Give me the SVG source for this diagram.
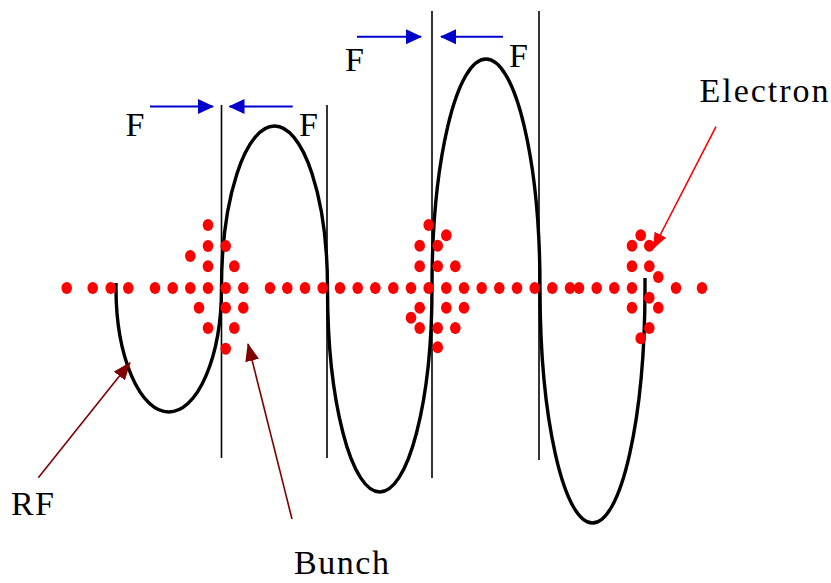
<svg xmlns="http://www.w3.org/2000/svg" width="831" height="583" viewBox="0 0 831 583">
<style>
.lbl{font-family:"Liberation Serif","Times New Roman",serif;font-size:34px;fill:#000}
.wave{fill:none;stroke:#000;stroke-width:3.4}
.gap{stroke:#000;stroke-width:1.6}
.force{stroke:#0000CC;stroke-width:2}
.dark{stroke:#800000;stroke-width:1.6}
.red{stroke:#FF0000;stroke-width:1.6}
.e{fill:#FF0000}
</style>
<defs>
<marker id="ab" markerUnits="userSpaceOnUse" markerWidth="16" markerHeight="16" viewBox="0 0 16 16" refX="15" refY="8" orient="auto"><path d="M0,0.5 L16,8 L0,15.5 z" fill="#0000CC"/></marker>
<marker id="ad" markerUnits="userSpaceOnUse" markerWidth="18" markerHeight="14" viewBox="0 0 18 14" refX="17" refY="7" orient="auto"><path d="M0,0 L18,7 L0,14 z" fill="#800000"/></marker>
<marker id="ar" markerUnits="userSpaceOnUse" markerWidth="16" markerHeight="14" viewBox="0 0 16 14" refX="15" refY="7" orient="auto"><path d="M0,0.5 L16,7 L0,13.5 z" fill="#FF0000"/></marker>
</defs>
<g id="gaps">
<line class="gap" x1="221.5" y1="105" x2="221.5" y2="458"/>
<line class="gap" x1="327" y1="105" x2="327" y2="458"/>
<line class="gap" x1="432" y1="11" x2="432" y2="478"/>
<line class="gap" x1="539" y1="11" x2="539" y2="460"/>
</g>
<g id="rf-wave">
<path class="wave" d="M116,283 L116,288 A52.75,124 0 0 0 221.5,288 A53,162 0 0 1 327.5,288 A52.25,204 0 0 0 432,288 A54,229 0 0 1 540,288 A52.5,235 0 0 0 645,288 L645,278"/>
</g>
<g id="electrons">
<g id="beam">
<ellipse class="e" cx="66.7" cy="288" rx="5.3" ry="6"/>
<ellipse class="e" cx="92.7" cy="288" rx="5.3" ry="6"/>
<ellipse class="e" cx="110.7" cy="288" rx="5.3" ry="6"/>
<ellipse class="e" cx="128.3" cy="288" rx="5.3" ry="6"/>
<ellipse class="e" cx="155" cy="288" rx="5.3" ry="6"/>
<ellipse class="e" cx="172.7" cy="288" rx="5.3" ry="6"/>
<ellipse class="e" cx="190.3" cy="288" rx="5.3" ry="6"/>
<ellipse class="e" cx="208" cy="288" rx="5.3" ry="6"/>
<ellipse class="e" cx="225.7" cy="288" rx="5.3" ry="6"/>
<ellipse class="e" cx="243.3" cy="288" rx="5.3" ry="6"/>
<ellipse class="e" cx="270" cy="288" rx="5.3" ry="6"/>
<ellipse class="e" cx="287.3" cy="288" rx="5.3" ry="6"/>
<ellipse class="e" cx="305" cy="288" rx="5.3" ry="6"/>
<ellipse class="e" cx="322.7" cy="288" rx="5.3" ry="6"/>
<ellipse class="e" cx="340" cy="288" rx="5.3" ry="6"/>
<ellipse class="e" cx="357.7" cy="288" rx="5.3" ry="6"/>
<ellipse class="e" cx="375.3" cy="288" rx="5.3" ry="6"/>
<ellipse class="e" cx="393.3" cy="288" rx="5.3" ry="6"/>
<ellipse class="e" cx="411" cy="288" rx="5.3" ry="6"/>
<ellipse class="e" cx="428.7" cy="288" rx="5.3" ry="6"/>
<ellipse class="e" cx="446.3" cy="288" rx="5.3" ry="6"/>
<ellipse class="e" cx="464" cy="288" rx="5.3" ry="6"/>
<ellipse class="e" cx="481.7" cy="288" rx="5.3" ry="6"/>
<ellipse class="e" cx="499.3" cy="288" rx="5.3" ry="6"/>
<ellipse class="e" cx="517" cy="288" rx="5.3" ry="6"/>
<ellipse class="e" cx="534.7" cy="288" rx="5.3" ry="6"/>
<ellipse class="e" cx="552.3" cy="288" rx="5.3" ry="6"/>
<ellipse class="e" cx="570" cy="288" rx="5.3" ry="6"/>
<ellipse class="e" cx="579" cy="288" rx="5.3" ry="6"/>
<ellipse class="e" cx="596.7" cy="288" rx="5.3" ry="6"/>
<ellipse class="e" cx="614.3" cy="288" rx="5.3" ry="6"/>
<ellipse class="e" cx="632" cy="288" rx="5.3" ry="6"/>
<ellipse class="e" cx="676" cy="288" rx="5.3" ry="6"/>
<ellipse class="e" cx="702" cy="288" rx="5.3" ry="6"/>
</g>
<g id="bunch1">
<ellipse class="e" cx="208" cy="225" rx="5.3" ry="6"/>
<ellipse class="e" cx="208" cy="246" rx="5.3" ry="6"/>
<ellipse class="e" cx="225.7" cy="246" rx="5.3" ry="6"/>
<ellipse class="e" cx="190.3" cy="256" rx="5.3" ry="6"/>
<ellipse class="e" cx="208" cy="266.3" rx="5.3" ry="6"/>
<ellipse class="e" cx="234.3" cy="266.3" rx="5.3" ry="6"/>
<ellipse class="e" cx="199" cy="307.7" rx="5.3" ry="6"/>
<ellipse class="e" cx="225.7" cy="307.7" rx="5.3" ry="6"/>
<ellipse class="e" cx="243.3" cy="307.7" rx="5.3" ry="6"/>
<ellipse class="e" cx="208" cy="328" rx="5.3" ry="6"/>
<ellipse class="e" cx="234.3" cy="328" rx="5.3" ry="6"/>
<ellipse class="e" cx="225.7" cy="348.7" rx="5.3" ry="6"/>
</g>
<g id="bunch2">
<ellipse class="e" cx="428.7" cy="225" rx="5.3" ry="6"/>
<ellipse class="e" cx="446.3" cy="235.3" rx="5.3" ry="6"/>
<ellipse class="e" cx="419.7" cy="245.7" rx="5.3" ry="6"/>
<ellipse class="e" cx="437.7" cy="245.7" rx="5.3" ry="6"/>
<ellipse class="e" cx="419.7" cy="266.3" rx="5.3" ry="6"/>
<ellipse class="e" cx="437.7" cy="266.3" rx="5.3" ry="6"/>
<ellipse class="e" cx="455.3" cy="266.3" rx="5.3" ry="6"/>
<ellipse class="e" cx="419.7" cy="307.7" rx="5.3" ry="6"/>
<ellipse class="e" cx="446.3" cy="307.7" rx="5.3" ry="6"/>
<ellipse class="e" cx="464" cy="307.7" rx="5.3" ry="6"/>
<ellipse class="e" cx="411" cy="317.7" rx="5.3" ry="6"/>
<ellipse class="e" cx="419.7" cy="328" rx="5.3" ry="6"/>
<ellipse class="e" cx="437.7" cy="328" rx="5.3" ry="6"/>
<ellipse class="e" cx="455.3" cy="328" rx="5.3" ry="6"/>
<ellipse class="e" cx="437.7" cy="347.3" rx="5.3" ry="6"/>
</g>
<g id="bunch3">
<ellipse class="e" cx="640.7" cy="235.3" rx="5.3" ry="6"/>
<ellipse class="e" cx="632" cy="245.7" rx="5.3" ry="6"/>
<ellipse class="e" cx="649.3" cy="245.7" rx="5.3" ry="6"/>
<ellipse class="e" cx="632" cy="266.3" rx="5.3" ry="6"/>
<ellipse class="e" cx="649.3" cy="266.3" rx="5.3" ry="6"/>
<ellipse class="e" cx="658.3" cy="277" rx="5.3" ry="6"/>
<ellipse class="e" cx="649.3" cy="297.7" rx="5.3" ry="6"/>
<ellipse class="e" cx="632" cy="307.7" rx="5.3" ry="6"/>
<ellipse class="e" cx="658.3" cy="307.7" rx="5.3" ry="6"/>
<ellipse class="e" cx="649.3" cy="328" rx="5.3" ry="6"/>
<ellipse class="e" cx="640.7" cy="338.3" rx="5.3" ry="6"/>
</g>
</g>
<g id="connectors">
<line class="force" x1="150" y1="106.5" x2="213" y2="106.5" marker-end="url(#ab)"/>
<line class="force" x1="292.7" y1="106.5" x2="229.5" y2="106.5" marker-end="url(#ab)"/>
<line class="force" x1="357" y1="36.7" x2="421" y2="36.7" marker-end="url(#ab)"/>
<line class="force" x1="503" y1="36.7" x2="441" y2="36.7" marker-end="url(#ab)"/>
<line class="dark" x1="38.3" y1="477.7" x2="130" y2="362.7" marker-end="url(#ad)"/>
<line class="dark" x1="292" y1="519" x2="248" y2="344" marker-end="url(#ad)"/>
<line class="red" x1="716" y1="126.7" x2="653.5" y2="248" marker-end="url(#ar)"/>
</g>
<g id="labels">
<text class="lbl" x="125.5" y="136">F</text>
<text class="lbl" x="299" y="136">F</text>
<text class="lbl" x="345" y="71">F</text>
<text class="lbl" x="509" y="66.7">F</text>
<text class="lbl" x="699.5" y="101.7" textLength="129" lengthAdjust="spacing">Electron</text>
<text class="lbl" x="11" y="515" textLength="43" lengthAdjust="spacing">RF</text>
<text class="lbl" x="294" y="573.5" textLength="95" lengthAdjust="spacing">Bunch</text>
</g>
</svg>
